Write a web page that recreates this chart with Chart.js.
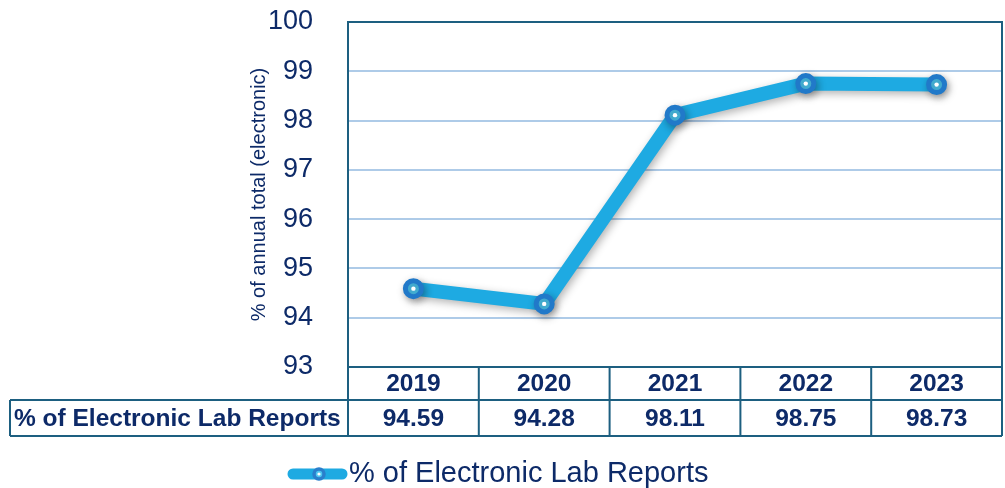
<!DOCTYPE html>
<html lang="en">
<head>
    <meta charset="UTF-8">
    <title>% of Electronic Lab Reports</title>
    <script src="https://cdn.jsdelivr.net/npm/chart.js@4.4.1/dist/chart.umd.min.js"></script>
    <style>
        html, body { margin: 0; padding: 0; background: #fff; }
        #wrap { width: 1005px; height: 488px; }
    </style>
</head>
<body>
    <div id="wrap"><canvas id="myChart" width="1005" height="488"></canvas></div>
    <script>
        // data
        var years = ['2019', '2020', '2021', '2022', '2023'];
        var pctElectronic = [94.59, 94.28, 98.11, 98.75, 98.73];
        var seriesName = '% of Electronic Lab Reports';
        var yTicks = [93, 94, 95, 96, 97, 98, 99, 100];

        var navy = '#0d2a68';
        var frame = '#1d5f80';
        var lineBlue = '#1eaae2';

        // box round the plot, table under it, legend at the bottom
        var tablePlugin = {
            id: 'table',
            beforeDatasetsDraw: function (chart) {
                var ctx = chart.ctx, a = chart.chartArea;
                ctx.save();
                ctx.strokeStyle = frame;
                ctx.lineWidth = 2;
                ctx.strokeRect(a.left, a.top, a.right - a.left, a.bottom - a.top);
                ctx.restore();
            },
            afterDraw: function (chart) {
                var ctx = chart.ctx, a = chart.chartArea;
                var xs = chart.scales.x;
                var colW = (a.right - a.left) / years.length;
                var r1 = a.bottom, r2 = a.bottom + 33, r3 = a.bottom + 69;
                ctx.save();
                ctx.strokeStyle = frame;
                ctx.lineWidth = 2;
                ctx.beginPath();
                ctx.moveTo(a.left, r1); ctx.lineTo(a.right, r1);
                ctx.moveTo(10, r2); ctx.lineTo(a.right, r2);
                ctx.moveTo(10, r3); ctx.lineTo(a.right, r3);
                ctx.moveTo(10, r2); ctx.lineTo(10, r3);
                for (var i = 0; i <= years.length; i++) {
                    var x = a.left + i * colW;
                    ctx.moveTo(x, r1); ctx.lineTo(x, r3);
                }
                ctx.stroke();

                ctx.fillStyle = navy;
                ctx.font = 'bold 24.5px "Liberation Sans", Arial, sans-serif';
                ctx.textBaseline = 'middle';
                ctx.textAlign = 'center';
                years.forEach(function (y, i) {
                    var cx = xs.getPixelForValue(i);
                    ctx.fillText(y, cx, (r1 + r2) / 2 + 1);
                    ctx.fillText(pctElectronic[i].toFixed(2), cx, (r2 + r3) / 2 + 1);
                });
                ctx.textAlign = 'left';
                ctx.fillText(seriesName, 14, (r2 + r3) / 2 + 1);

                // legend
                var ly = 474;
                ctx.lineCap = 'round';
                ctx.strokeStyle = lineBlue;
                ctx.lineWidth = 11;
                ctx.beginPath();
                ctx.moveTo(293, ly); ctx.lineTo(342, ly);
                ctx.stroke();
                drawMarker(ctx, 319, ly, 5);
                ctx.fillStyle = navy;
                ctx.font = '29px "Liberation Sans", Arial, sans-serif';
                ctx.textAlign = 'left';
                ctx.fillText(seriesName, 349, ly);
                ctx.restore();
            }
        };

        function drawMarker(ctx, x, y, r) {
            ctx.beginPath();
            ctx.arc(x, y, r, 0, Math.PI * 2);
            ctx.fillStyle = '#4cc6ef';
            ctx.fill();
            ctx.lineWidth = 3.5;
            ctx.strokeStyle = '#2a7fcc';
            ctx.stroke();
            ctx.beginPath();
            ctx.arc(x, y, 1.6, 0, Math.PI * 2);
            ctx.fillStyle = '#ffffff';
            ctx.fill();
        }

        var shadowPlugin = {
            id: 'shadow',
            beforeDatasetDraw: function (chart) {
                var ctx = chart.ctx;
                ctx.save();
                ctx.shadowColor = 'rgba(0,0,0,0.3)';
                ctx.shadowBlur = 8;
                ctx.shadowOffsetX = 2;
                ctx.shadowOffsetY = 3;
            },
            afterDatasetDraw: function (chart) {
                chart.ctx.restore();
                var ctx = chart.ctx;
                chart.getDatasetMeta(0).data.forEach(function (p) {
                    ctx.beginPath();
                    ctx.arc(p.x, p.y, 2.2, 0, Math.PI * 2);
                    ctx.fillStyle = '#ffffff';
                    ctx.fill();
                });
            }
        };

        var ctx = document.getElementById('myChart').getContext('2d');
        var myChart = new Chart(ctx, {
            type: 'line',
            data: {
                labels: years,
                datasets: [{
                    label: seriesName,
                    data: pctElectronic,
                    borderColor: lineBlue,
                    borderWidth: 14,
                    borderJoinStyle: 'round',
                    borderCapStyle: 'round',
                    pointRadius: 8,
                    pointBorderWidth: 5,
                    pointBackgroundColor: '#4cc6ef',
                    pointBorderColor: '#2179c9',
                    tension: 0,
                    clip: false
                }]
            },
            options: {
                responsive: false,
                animation: false,
                layout: {
                    autoPadding: false,
                    padding: { top: 22, right: 3, bottom: 121, left: 0 }
                },
                plugins: {
                    legend: { display: false },
                    tooltip: { enabled: false }
                },
                scales: {
                    x: {
                        display: false,
                        offset: true
                    },
                    y: {
                        min: 93,
                        max: 100,
                        afterBuildTicks: function (scale) {
                            scale.ticks = yTicks.map(function (v) { return { value: v }; });
                        },
                        afterFit: function (scale) { scale.width = 348; },
                        grid: {
                            color: function (c) { return c.tick && c.tick.value === 100 ? 'rgba(0,0,0,0)' : '#aecbe8'; },
                            lineWidth: 2,
                            drawTicks: true,
                            tickLength: 32,
                            tickColor: 'rgba(0,0,0,0)'
                        },
                        border: { display: false },
                        ticks: {
                            padding: 3,
                            color: navy,
                            font: { family: '"Liberation Sans", Arial, sans-serif', size: 27 }
                        },
                        title: {
                            display: true,
                            text: '% of annual total (electronic)',
                            color: navy,
                            font: { family: '"Liberation Sans", Arial, sans-serif', size: 20 },
                            padding: { top: 247, bottom: 0 }
                        }
                    }
                }
            },
            plugins: [tablePlugin, shadowPlugin]
        });
    </script>
</body>
</html>
